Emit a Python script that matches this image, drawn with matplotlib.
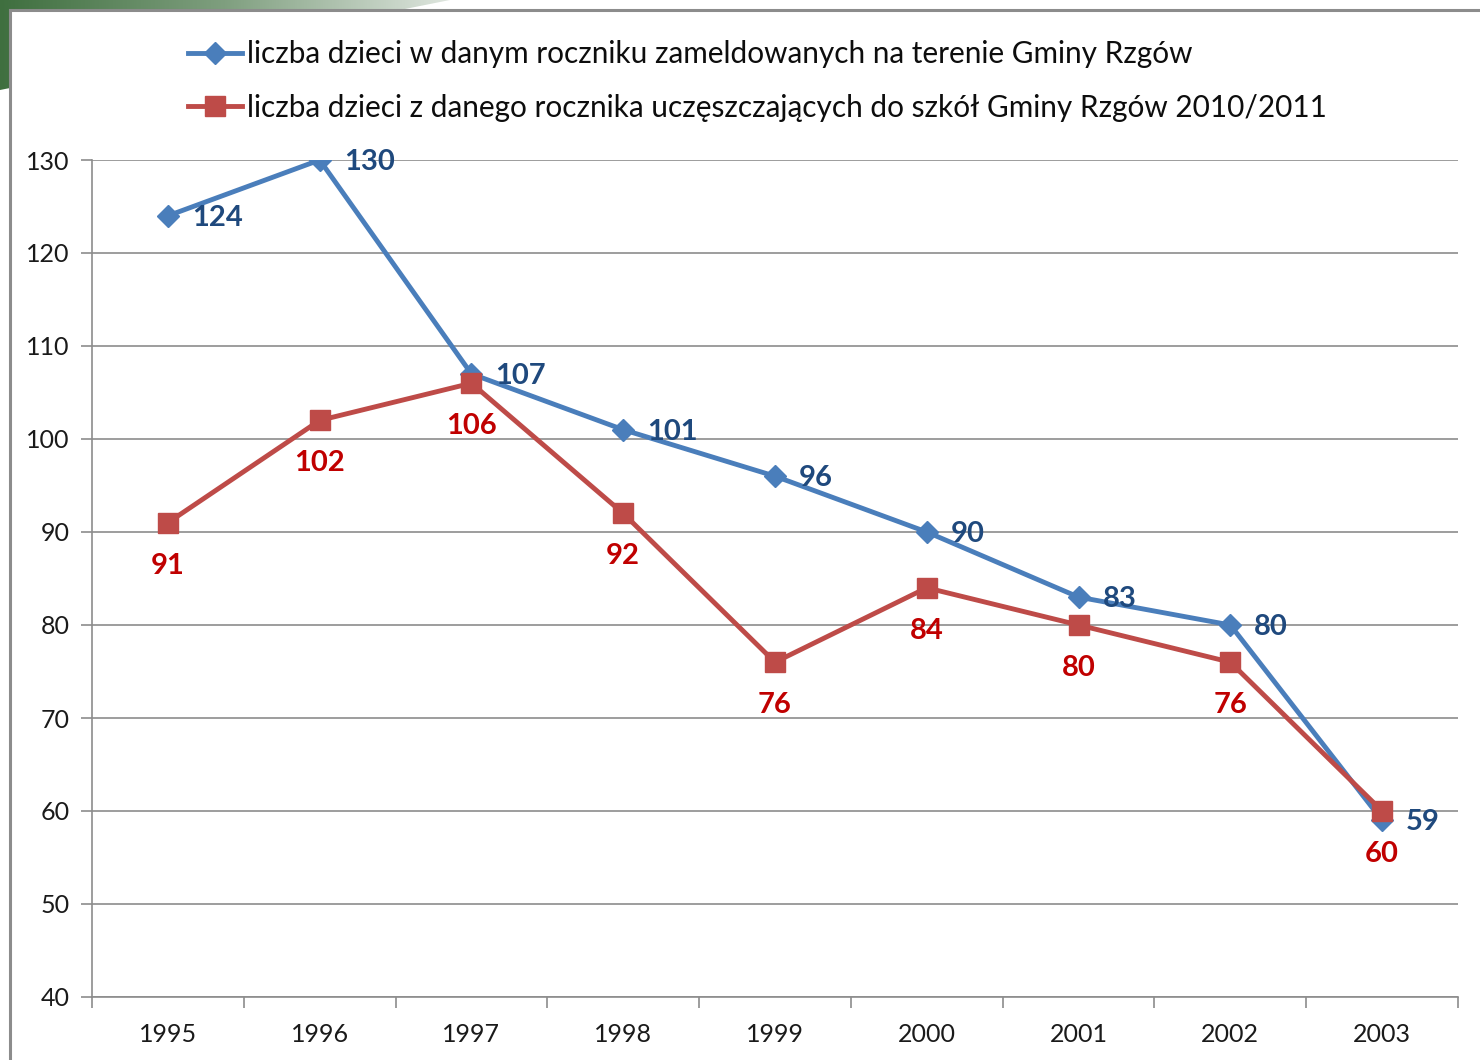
import numpy as np
import matplotlib
matplotlib.use("Agg")
import matplotlib.pyplot as plt
from matplotlib.patches import Polygon, Rectangle
from matplotlib.colors import LinearSegmentedColormap

years = ["1995", "1996", "1997", "1998", "1999", "2000", "2001", "2002", "2003"]
registered = [124, 130, 107, 101, 96, 90, 83, 80, 59]
attending = [91, 102, 106, 92, 76, 84, 80, 76, 60]
label_registered = "liczba dzieci w danym roczniku zameldowanych na terenie Gminy Rzgów"
label_attending = "liczba dzieci z danego rocznika uczęszczających do szkół Gminy Rzgów 2010/2011"
yticks = [40, 50, 60, 70, 80, 90, 100, 110, 120, 130]

plt.rcParams['font.family'] = ['Lato', 'DejaVu Sans']

W, H = 1480, 1060
fig = plt.figure(figsize=(W / 100, H / 100), dpi=100)
fig.patch.set_facecolor('white')

# background decoration (green corner gradient + frame)
bg = fig.add_axes([0, 0, 1, 1], zorder=0)
bg.set_xlim(0, W)
bg.set_ylim(H, 0)
bg.axis('off')
grad = np.linspace(0, 1, 256)[None, :]
cmap = LinearSegmentedColormap.from_list('g', ['#3f6f3f', '#7f9f7f', '#dfe6df'])
im = bg.imshow(grad, extent=(0, 450, 90, 0), cmap=cmap, aspect='auto', zorder=0)
tri = Polygon([(0, 0), (450, 0), (0, 90)], closed=True, transform=bg.transData, facecolor='none', edgecolor='none')
bg.add_patch(tri)
im.set_clip_path(tri)
bg.add_patch(Rectangle((10, 10), W, H, facecolor='white', edgecolor='#8c8c8c', linewidth=2.2, zorder=1))

ax = fig.add_axes([92 / W, 1 - 997 / H, (1458 - 92) / W, (997 - 160) / H], zorder=2)
ax.patch.set_alpha(0)
x = np.arange(len(years))
blue_line = '#4a7ebb'
red_line = '#be4b48'
ax.plot(x, registered, color=blue_line, lw=3.5, marker='D', ms=11, mfc=blue_line, mec=blue_line, zorder=3,
        label=label_registered)
ax.plot(x, attending, color=red_line, lw=3.5, marker='s', ms=14, mfc=red_line, mec=red_line, zorder=4,
        label=label_attending)

for xi, v in zip(x, registered):
    ax.annotate(str(v), (xi, v), xytext=(24, -2), textcoords='offset pixels', ha='left', va='center',
                color='#1f497d', fontsize=21, fontweight='bold', zorder=5)
for xi, v in zip(x, attending):
    ax.annotate(str(v), (xi, v), xytext=(0, -43), textcoords='offset pixels', ha='center', va='center',
                color='#c00000', fontsize=21, fontweight='bold', zorder=5)

ax.set_xlim(-0.5, len(years) - 0.5)
ax.set_ylim(40, 130)
ax.set_yticks(yticks)
ax.set_yticklabels([str(t) for t in yticks])
ax.set_xticks(x)
ax.set_xticklabels(years)
ax.set_xticks(np.arange(-0.5, len(years)), minor=True)
ax.tick_params(axis='x', which='major', length=0, pad=19, labelsize=18, labelcolor='#1a1a1a')
ax.tick_params(axis='x', which='minor', length=8, color='#8c8c8c', width=1.2)
ax.tick_params(axis='y', length=8, color='#8c8c8c', width=1.2, pad=8, labelsize=18, labelcolor='#1a1a1a')
ax.grid(axis='y', color='#8c8c8c', lw=1.2, zorder=1)
for s in ['top', 'right']:
    ax.spines[s].set_visible(False)
for s in ['left', 'bottom']:
    ax.spines[s].set_color('#8c8c8c')
    ax.spines[s].set_linewidth(1.2)

leg = fig.legend(loc='upper left', bbox_to_anchor=(188 / W, 1 - 40 / H), frameon=False, fontsize=21.4,
                 handlelength=1.8, handletextpad=0.17, labelspacing=0.87, borderaxespad=0, borderpad=0)
for t in leg.get_texts():
    t.set_color('#0d0d0d')

fig.savefig('out.png', dpi=100)
